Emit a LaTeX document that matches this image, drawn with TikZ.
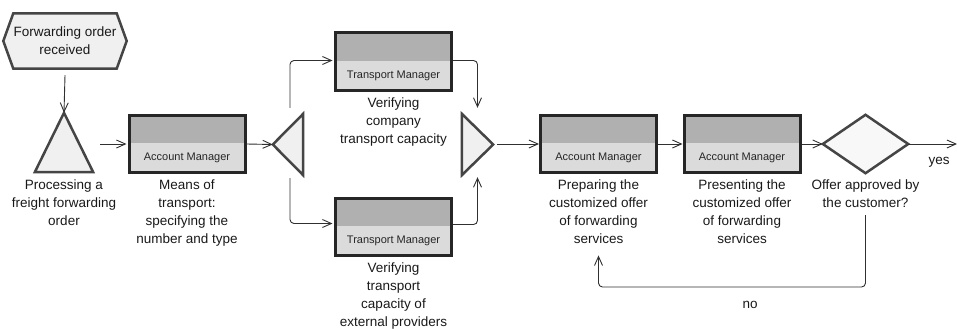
\documentclass[tikz,border=0pt]{standalone}
\usepackage{fontspec}
\setmainfont{Liberation Sans}
\usetikzlibrary{arrows.meta,calc}
\definecolor{bordc}{HTML}{262626}
\definecolor{shapec}{HTML}{454545}
\definecolor{topg}{HTML}{B0B0B0}
\definecolor{botg}{HTML}{DBDBDB}
\definecolor{lightf}{HTML}{F0F0F0}
\definecolor{connc}{HTML}{303030}
\begin{document}
\begin{tikzpicture}[x=1pt,y=-1pt,
  funcbox/.style={draw=bordc, line width=3pt, fill=botg, minimum width=116pt, minimum height=57pt, inner sep=0pt,
    path picture={\fill[topg] (path picture bounding box.north west) rectangle ([yshift=1pt]path picture bounding box.east);}},
  role/.style={font=\fontsize{11}{12}\selectfont, text=black!85, inner sep=0pt},
  lbl/.style={font=\fontsize{13.5}{17.7}\selectfont, align=center, inner sep=0pt, anchor=north, text=black!90},
  anchorbox/.style 2 args={minimum width=#1pt, minimum height=#2pt, inner sep=0pt},
  shapeline/.style={draw=shapec, line width=2.5pt, fill=lightf, line join=miter},
  conn/.style={draw=connc, line width=0.9pt, -{Straight Barb[length=9pt,width=8pt]}, rounded corners=4pt}
]
\useasboundingbox (0,0) rectangle (957,329);

% start event
\node[anchorbox={123}{55}] (ev) at (65,41) {};
\path[shapeline] (ev.west) -- ([xshift=10pt]ev.north west) -- ([xshift=-10pt]ev.north east) -- (ev.east)
  -- ([xshift=-10pt]ev.south east) -- ([xshift=10pt]ev.south west) -- cycle;
\node[lbl, anchor=center] (evt) at (ev.center) {Forwarding order\\received};

% triangle (process interface)
\node[anchorbox={58}{59}] (t1) at (64,142.5) {};
\path[shapeline] (t1.north) -- (t1.south east) -- (t1.south west) -- cycle;
\node[lbl] (t1l) at (64,180) {Processing a\\freight forwarding\\order};

% functions
\node[funcbox] (b1) at (187,144) {};
\node[role] (b1r) at ([yshift=-14pt]b1.center) {Account Manager};
\node[lbl] (b1l) at (187,180) {Means of\\transport:\\specifying the\\number and type};

\node[anchorbox={30}{61}] (sp) at (288,144.5) {};
\path[shapeline] (sp.west) -- (sp.north east) -- (sp.south east) -- cycle;

\node[funcbox] (tm1) at (393.5,61.5) {};
\node[role] (tm1r) at ([yshift=-14pt]tm1.center) {Transport Manager};
\node[lbl] (tm1l) at (393.5,98) {Verifying\\company\\transport capacity};

\node[funcbox] (tm2) at (393.5,226.5) {};
\node[role] (tm2r) at ([yshift=-14pt]tm2.center) {Transport Manager};
\node[lbl] (tm2l) at (393.5,263) {Verifying\\transport\\capacity of\\external providers};

\node[anchorbox={31}{61}] (jn) at (477.5,144.5) {};
\path[shapeline] (jn.north west) -- (jn.east) -- (jn.south west) -- cycle;

\node[funcbox] (b3) at (598.5,144) {};
\node[role] (b3r) at ([yshift=-14pt]b3.center) {Account Manager};
\node[lbl] (b3l) at (598.5,180) {Preparing the\\customized offer\\of forwarding\\services};

\node[funcbox] (b4) at (742,144) {};
\node[role] (b4r) at ([yshift=-14pt]b4.center) {Account Manager};
\node[lbl] (b4l) at (742,180) {Presenting the\\customized offer\\of forwarding\\services};

\node[anchorbox={85}{58}] (dm) at (865.5,144) {};
\path[shapeline, fill=white!50!lightf] (dm.west) -- (dm.north) -- (dm.east) -- (dm.south) -- cycle;
\node[lbl] (dml) at (865.5,180) {Offer approved by\\the customer?};

\coordinate (out) at (957,144);
\coordinate (loopy) at (0,287);
\node[lbl, anchor=center] (yes) at (939,162) {yes};
\node[lbl, anchor=center] (no) at (750,305) {no};

% connectors
\draw[conn] ([yshift=-6.5pt]ev.south) -- (t1.north);
\draw[conn, shorten >=1pt] ([xshift=7pt]t1.east |- b1.west) -- (b1.west);
\draw[conn] (b1.east) -- (sp.west);
\draw[conn, shorten >=1.5pt] ([xshift=2pt,yshift=6pt]sp.north) |- ([yshift=1pt]tm1.west);
\draw[conn, shorten >=1.5pt] ([xshift=2pt,yshift=-3pt]sp.south) |- ([yshift=3pt]tm2.west);
\draw[conn] ([yshift=1pt]tm1.east) -| ([yshift=6pt]jn.north);
\draw[conn] ([yshift=2pt]tm2.east) -| ([yshift=-2pt]jn.south);
\draw[conn] ([xshift=4pt]jn.east |- b3.west) -- (b3.west);
\draw[conn] (b3.east) -- (b4.west);
\draw[conn] (b4.east) -- (dm.west);
\draw[conn] (dm.east) -- (out);
\draw[conn] ([yshift=-7pt]dml.south) -- (dml.south |- loopy) -| ([yshift=-12pt]b3l.south);
\end{tikzpicture}
\end{document}
